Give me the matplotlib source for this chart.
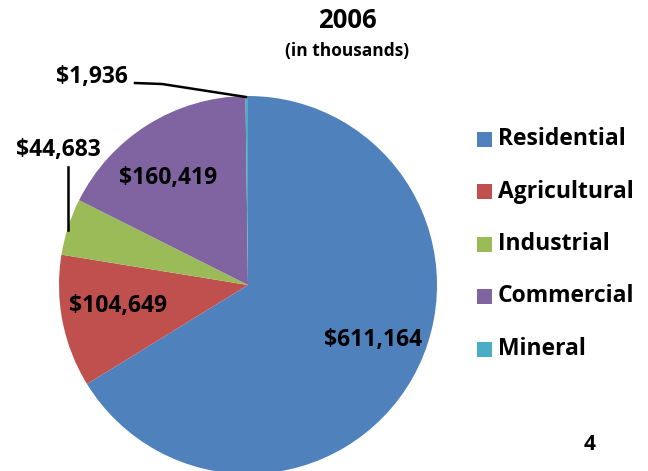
import matplotlib.pyplot as plt
from matplotlib.patches import Rectangle

# Data (thousands of dollars), 2006
categories = ['Residential', 'Agricultural', 'Industrial', 'Commercial', 'Mineral']
values = [611164, 104649, 44683, 160419, 1936]
value_labels = ['$611,164', '$104,649', '$44,683', '$160,419', '$1,936']
colors = ['#4F81BD', '#C0504D', '#9BBB59', '#8064A2', '#4BACC6']

plt.rcParams['font.family'] = ['Open Sans', 'DejaVu Sans']
plt.rcParams['font.weight'] = 'bold'

W, H = 648, 471
fig = plt.figure(figsize=(W / 100, H / 100), dpi=100)
ax = fig.add_axes([0, 0, 1, 1])

# Pie, clockwise from 12 o'clock (pixel coords, y up)
cx, cy, r = 248, H - 285, 189
ax.pie(values, colors=colors, startangle=90, counterclock=False,
       center=(cx, cy), radius=r, frame=True,
       wedgeprops=dict(linewidth=0))
ax.set_xlim(0, W)
ax.set_ylim(0, H)
ax.set_aspect('auto')
ax.axis('off')

# Data labels
label_pos = [(373, 340), (118, 306), (58, 150), (168, 178), (92, 77)]
for txt, (x, y) in zip(value_labels, label_pos):
    ax.text(x, H - y, txt, fontsize=16.5, fontweight='bold', ha='center', va='center')

# Leader lines for small slices
ax.plot([68, 68], [H - 167, H - 230], color='black', lw=1.8)
ax.plot([135, 162, 246], [H - 83, H - 84, H - 97], color='black', lw=1.8)

# Title
ax.text(347, H - 20, '2006', fontsize=18.5, fontweight='bold', ha='center', va='center')
ax.text(347, H - 51, '(in thousands)', fontsize=12.5, fontweight='bold', ha='center', va='center')

# Legend
for i, (cat, col) in enumerate(zip(categories, colors)):
    y = 139 + i * 52.5
    ax.add_patch(Rectangle((477, H - y - 7.5), 15, 15, facecolor=col, edgecolor='none'))
    ax.text(498, H - y, cat, fontsize=16.5, fontweight='bold', ha='left', va='center')

# Page number
ax.text(590, H - 445, '4', fontsize=15, fontweight='bold', ha='center', va='center')

fig.savefig('out.png', dpi=100)
